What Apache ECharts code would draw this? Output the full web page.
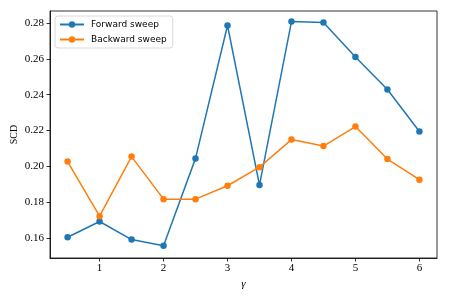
<!DOCTYPE html>
<html><head><meta charset="utf-8">
<script src="https://cdn.jsdelivr.net/npm/echarts@6/dist/echarts.min.js"></script>
<style>html,body{margin:0;padding:0;background:#fff}#c{width:449px;height:299px}</style>
</head><body><div id="c"></div>
<script>
const gammas = [0.5,1,1.5,2,2.5,3,3.5,4,4.5,5,5.5,6];
const forward = [0.1603,0.1691,0.1590,0.1555,0.2044,0.2787,0.1895,0.2809,0.2804,0.2611,0.2429,0.2194];
const backward = [0.2026,0.1721,0.2054,0.1816,0.1816,0.1891,0.1995,0.2149,0.2113,0.2222,0.2040,0.1925];
const xTicks = [1,2,3,4,5,6];
const yTicks = [0.16,0.18,0.20,0.22,0.24,0.26,0.28];
const seriesNames = ['Forward sweep','Backward sweep'];
const colors = ['#1f77b4','#ff7f0e'];

const serif = 'Liberation Serif';
const chart = echarts.init(document.getElementById('c'), null, {renderer:'canvas'});
const axisLine = {show:true, onZero:false, lineStyle:{color:'#000', width:0.8}};
chart.setOption({
  animation:false,
  color: colors,
  grid:{left:50, top:11, right:12, bottom:41, show:true, borderColor:'#000', borderWidth:0.8,
        containLabel:false, outerBoundsMode:'none'},
  legend:{
    left:55, top:16, orient:'vertical', itemWidth:24, itemHeight:8, itemGap:6,
    padding:[4,6,4,4], borderColor:'#d0d0d0', borderWidth:0.8, borderRadius:3,
    backgroundColor:'rgba(255,255,255,0.8)',
    textStyle:{fontFamily:'DejaVu Sans', fontSize:9, color:'#000', padding:[0,0,0,2]},
    data: seriesNames
  },
  xAxis:{
    type:'value', min:0.225, max:6.275,
    name:'γ', nameLocation:'middle', nameGap:21, nameMoveOverlap:false,
    nameTextStyle:{fontFamily:serif, fontStyle:'italic', fontSize:11, color:'#000'},
    axisLine: axisLine,
    axisTick:{show:true, customValues:xTicks, length:3.5, inside:false, lineStyle:{color:'#000', width:0.8}},
    axisLabel:{customValues:xTicks, fontFamily:serif, fontSize:11, color:'#000', margin:5},
    splitLine:{show:false}
  },
  yAxis:{
    type:'value', min:0.1487, max:0.2868,
    name:'SCD', nameLocation:'middle', nameGap:31, nameRotate:90, nameMoveOverlap:false,
    nameTextStyle:{fontFamily:serif, fontSize:10, color:'#000'},
    axisLine: axisLine,
    axisTick:{show:true, customValues:yTicks, length:3.5, inside:false, lineStyle:{color:'#000', width:0.8}},
    axisLabel:{customValues:yTicks, fontFamily:serif, fontSize:11, color:'#000', margin:6,
      formatter:v=>v.toFixed(2)},
    splitLine:{show:false}
  },
  series:[
    {name:seriesNames[0], type:'line', data:gammas.map((g,i)=>[g,forward[i]]),
     symbol:'circle', symbolSize:6.5, lineStyle:{width:1.5}, itemStyle:{color:colors[0]}},
    {name:seriesNames[1], type:'line', data:gammas.map((g,i)=>[g,backward[i]]),
     symbol:'circle', symbolSize:6.5, lineStyle:{width:1.5}, itemStyle:{color:colors[1]}}
  ]
});
</script></body></html>
